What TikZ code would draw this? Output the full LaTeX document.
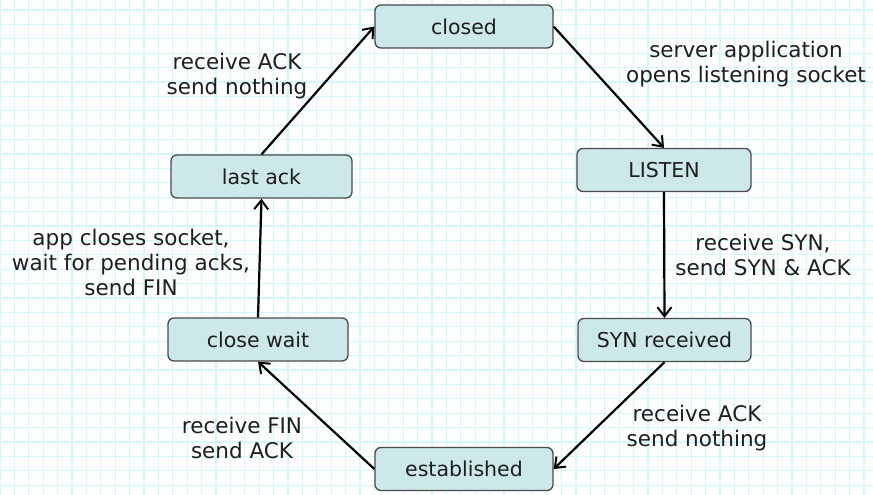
\documentclass[tikz,border=0pt]{standalone}
\usepackage{fontspec}
\setmainfont{DejaVu Sans}
\usetikzlibrary{arrows.meta}
\definecolor{gridc}{HTML}{D4F7FB}
\definecolor{boxfill}{HTML}{CCE8E8}
\definecolor{boxline}{HTML}{4A4A4A}
\definecolor{txt}{HTML}{1E1E1E}
\tikzset{
  state/.style={draw=boxline, line width=1.3pt, fill=boxfill, rounded corners=6pt,
    minimum width=178pt, minimum height=43pt, inner sep=0pt, font=\fontsize{20.5}{24}\selectfont, text=txt},
  lbl/.style={align=center, font=\fontsize{21.5}{25}\selectfont, text=txt, inner sep=0pt},
  arr/.style={draw=black, line width=2.2pt, -{Straight Barb[length=9pt,width=14pt,line width=2pt]}}
}
\begin{document}
\begin{tikzpicture}[x=1pt,y=-1pt]
\useasboundingbox (0,0) rectangle (873,495);
\fill[white] (0,0) rectangle (873,495);
\foreach \i in {0,...,60} {\draw[gridc, line width=1.2pt] (\i*14.4,0) -- (\i*14.4,495);}
\foreach \j in {0,...,34} {\draw[gridc, line width=1.2pt] (0,10+\j*14.4) -- (873,10+\j*14.4);}
\node[state] (closed) at (464,26.5) {closed};
\node[state, minimum width=174pt] (listen) at (664,170) {LISTEN};
\node[state, minimum width=173pt] (syn) at (664.5,340) {SYN received};
\node[state] (est) at (464,469) {established};
\node[state, minimum width=180pt] (cw) at (258,339.5) {close wait};
\node[state, minimum width=181pt] (la) at (261.5,176.5) {last ack};
\draw[arr] (closed.east) -- (listen.north);
\draw[arr] (listen.south) -- (syn.north);
\draw[arr] (syn.south) -- (est.east);
\draw[arr] (est.west) -- (cw.south);
\draw[arr] (cw.north) -- (la.south);
\draw[arr] (la.north) -- (closed.west);
\node[lbl] (l1) at (746,64) {server application\\opens listening socket};
\node[lbl] (l2) at (763,255) {receive SYN,\\send SYN \& ACK};
\node[lbl] (l3) at (697,428) {receive ACK\\send nothing};
\node[lbl] (l4) at (242,438) {receive FIN\\send ACK};
\node[lbl] (l5) at (131,262) {app closes socket,\\wait for pending acks,\\send FIN};
\node[lbl] (l6) at (237,76) {receive ACK\\send nothing};
\end{tikzpicture}
\end{document}
